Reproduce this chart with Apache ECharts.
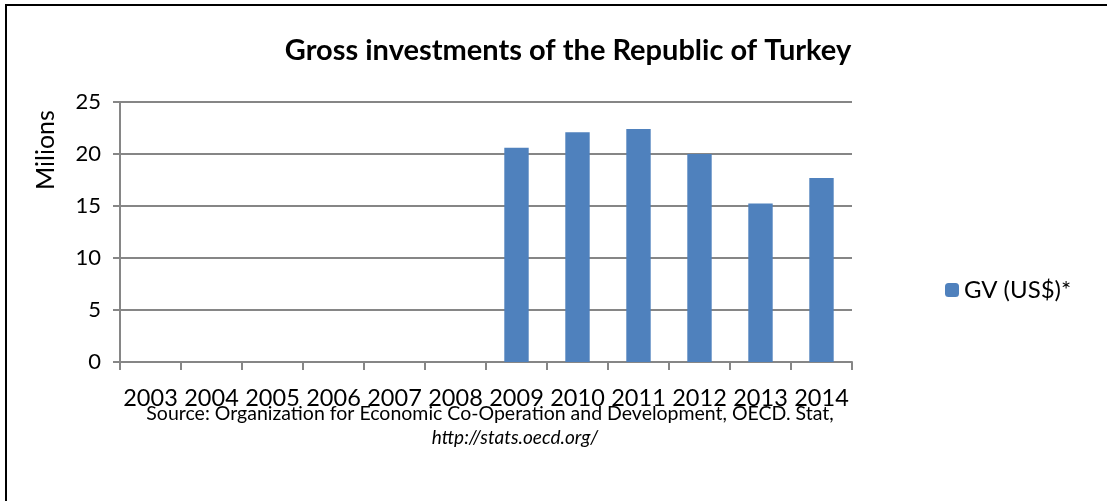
<!DOCTYPE html>
<html>
<head>
<meta charset="utf-8">
<script src="https://cdn.jsdelivr.net/npm/echarts@6/dist/echarts.min.js"></script>
<style>
  html, body { margin: 0; padding: 0; background: #fff; }
  #frame { position: absolute; left: 0; top: 0; width: 1107px; height: 501px; overflow: hidden; }
  #border { position: absolute; left: 5px; top: 4px; width: 1110px; height: 510px;
            border-left: 2px solid #000; border-top: 2px solid #000; box-sizing: border-box; }
  #chart { position: absolute; left: 0; top: 0; width: 1107px; height: 501px; }
</style>
</head>
<body>
<div id="frame">
  <div id="chart"></div>
  <div id="border"></div>
</div>
<script>
// Gross investments, millions of US$
const years = ['2003', '2004', '2005', '2006', '2007', '2008', '2009', '2010', '2011', '2012', '2013', '2014'];
const investments = [null, null, null, null, null, null, 20.6, 22.1, 22.4, 20.0, 15.25, 17.7];
const seriesName = 'GV (US$)*';
const titleText = 'Gross investments of the Republic of Turkey';
const yAxisTitle = 'Milions';
const sourceLine = 'Source: Organization for Economic Co-Operation and Development, OECD. Stat,';
const sourceUrl = 'http://stats.oecd.org/';

const FONT = 'Lato, "Open Sans", "Liberation Sans", sans-serif';
const AXIS_GRAY = '#868686';

const chart = echarts.init(document.getElementById('chart'), null, { renderer: 'canvas' });
chart.setOption({
  backgroundColor: '#fff',
  animation: false,
  title: {
    text: titleText,
    left: 563, top: 31, textAlign: 'center',
    textStyle: { fontFamily: FONT, fontWeight: 'bold', fontSize: 29, color: '#000' }
  },
  legend: {
    data: [seriesName],
    orient: 'vertical',
    left: 940, top: 273,
    itemWidth: 14, itemHeight: 14, itemGap: 8,
    textStyle: { fontFamily: FONT, fontSize: 24, color: '#000' }
  },
  grid: { left: 120, right: 255, top: 102, bottom: 139, containLabel: false },
  xAxis: {
    type: 'category',
    data: years,
    boundaryGap: true,
    axisLine: { lineStyle: { color: AXIS_GRAY, width: 2 } },
    axisTick: { show: true, alignWithLabel: false, length: 8, lineStyle: { color: AXIS_GRAY, width: 2 } },
    axisLabel: { margin: 24, fontFamily: FONT, fontSize: 23.5, color: '#000', interval: 0 }
  },
  yAxis: {
    type: 'value',
    min: 0, max: 25, interval: 5,
    axisLine: { show: true, lineStyle: { color: AXIS_GRAY, width: 2 } },
    axisTick: { show: true, length: 7, lineStyle: { color: AXIS_GRAY, width: 2 } },
    axisLabel: { margin: 19, fontFamily: FONT, fontSize: 22, color: '#000' },
    splitLine: { show: true, lineStyle: { color: AXIS_GRAY, width: 2 } }
  },
  series: [{
    name: seriesName,
    type: 'bar',
    data: investments,
    barCategoryGap: '60%',
    itemStyle: { color: '#4f81bd' }
  }],
  graphic: [
    {
      type: 'text',
      x: 33, y: 190,
      rotation: Math.PI / 2,
      style: { text: yAxisTitle, fontFamily: FONT, fontSize: 25, fill: '#000' }
    },
    {
      type: 'text', x: 490, y: 414,
      style: { text: sourceLine, fontFamily: FONT, fontSize: 19.5, fill: '#000',
               textAlign: 'center', textVerticalAlign: 'middle' }
    },
    {
      type: 'text', x: 515, y: 438,
      style: { text: sourceUrl, fontFamily: FONT, fontSize: 19, fontStyle: 'italic', fill: '#000',
               textAlign: 'center', textVerticalAlign: 'middle' }
    }
  ]
});
</script>
</body>
</html>
